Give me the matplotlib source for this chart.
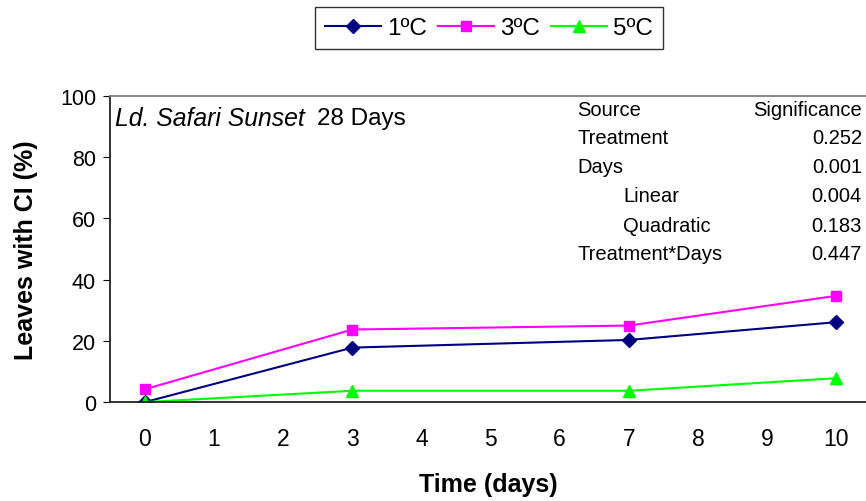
import matplotlib.pyplot as plt

plt.rcParams['font.family'] = ['Liberation Sans', 'DejaVu Sans']

days = [0, 3, 7, 10]
t1 = [0.0, 17.8, 20.3, 26.1]
t3 = [4.2, 23.7, 25.0, 34.7]
t5 = [0.0, 3.7, 3.7, 7.8]

sources = ["Source", "Treatment", "Days", "Linear", "Quadratic", "Treatment*Days"]
signif = ["Significance", "0.252", "0.001", "0.004", "0.183", "0.447"]
indent = [False, False, False, True, True, False]

fig = plt.figure(figsize=(8.66, 5.02), dpi=100)
ax = fig.add_axes([0.127, 0.197, 0.873, 0.610])

l1, = ax.plot(days, t1, color='#000080', marker='D', ms=7.5, lw=1.5, label='1ºC')
l3, = ax.plot(days, t3, color='#FF00FF', marker='s', ms=7.5, lw=1.5, label='3ºC')
l5, = ax.plot(days, t5, color='#00FF00', marker='^', ms=9, lw=1.5, label='5ºC')

ax.set_xlim(-0.506, 10.43)
ax.set_ylim(0, 100)
ax.set_xticks(range(0, 11))
ax.set_yticks(range(0, 101, 20))
ax.tick_params(axis='x', length=0, labelsize=16.5, pad=18)
ax.tick_params(axis='y', length=5, labelsize=15.5, pad=5, direction='out')

ax.spines['right'].set_visible(False)
ax.spines['top'].set_color('#808080')
ax.spines['left'].set_color('#222222')
ax.spines['bottom'].set_color('#222222')
for s in ['left', 'bottom', 'top']:
    ax.spines[s].set_linewidth(1.3)

ax.set_xlabel('Time (days)', fontsize=18, fontweight='bold', labelpad=16)
ax.set_ylabel('Leaves with CI (%)', fontsize=18, fontweight='bold', labelpad=16)

fig.text(115 / 866, 1 - 119 / 502, 'Ld. Safari Sunset', fontsize=17.8, style='italic', va='center')
fig.text(317 / 866, 1 - 119 / 502, '28 Days', fontsize=17.5, va='center')

for i, (s, v, ind) in enumerate(zip(sources, signif, indent)):
    y = 1 - (110 + i * 29) / 502
    x = (623 if ind else 577) / 866
    fig.text(x, y, s, fontsize=14.5, va='center')
    fig.text(862 / 866, y, v, fontsize=14.5, va='center', ha='right')

leg = fig.legend(handles=[l1, l3, l5], loc='upper center', ncol=3,
                 bbox_to_anchor=(489 / 866, 1 - 8 / 502), fontsize=17.5,
                 frameon=True, fancybox=False, edgecolor='black',
                 handlelength=2.3, columnspacing=0.45, handletextpad=0.25,
                 borderpad=0.42, borderaxespad=0)
leg.get_frame().set_linewidth(1.0)

fig.savefig('out.png', dpi=100)
